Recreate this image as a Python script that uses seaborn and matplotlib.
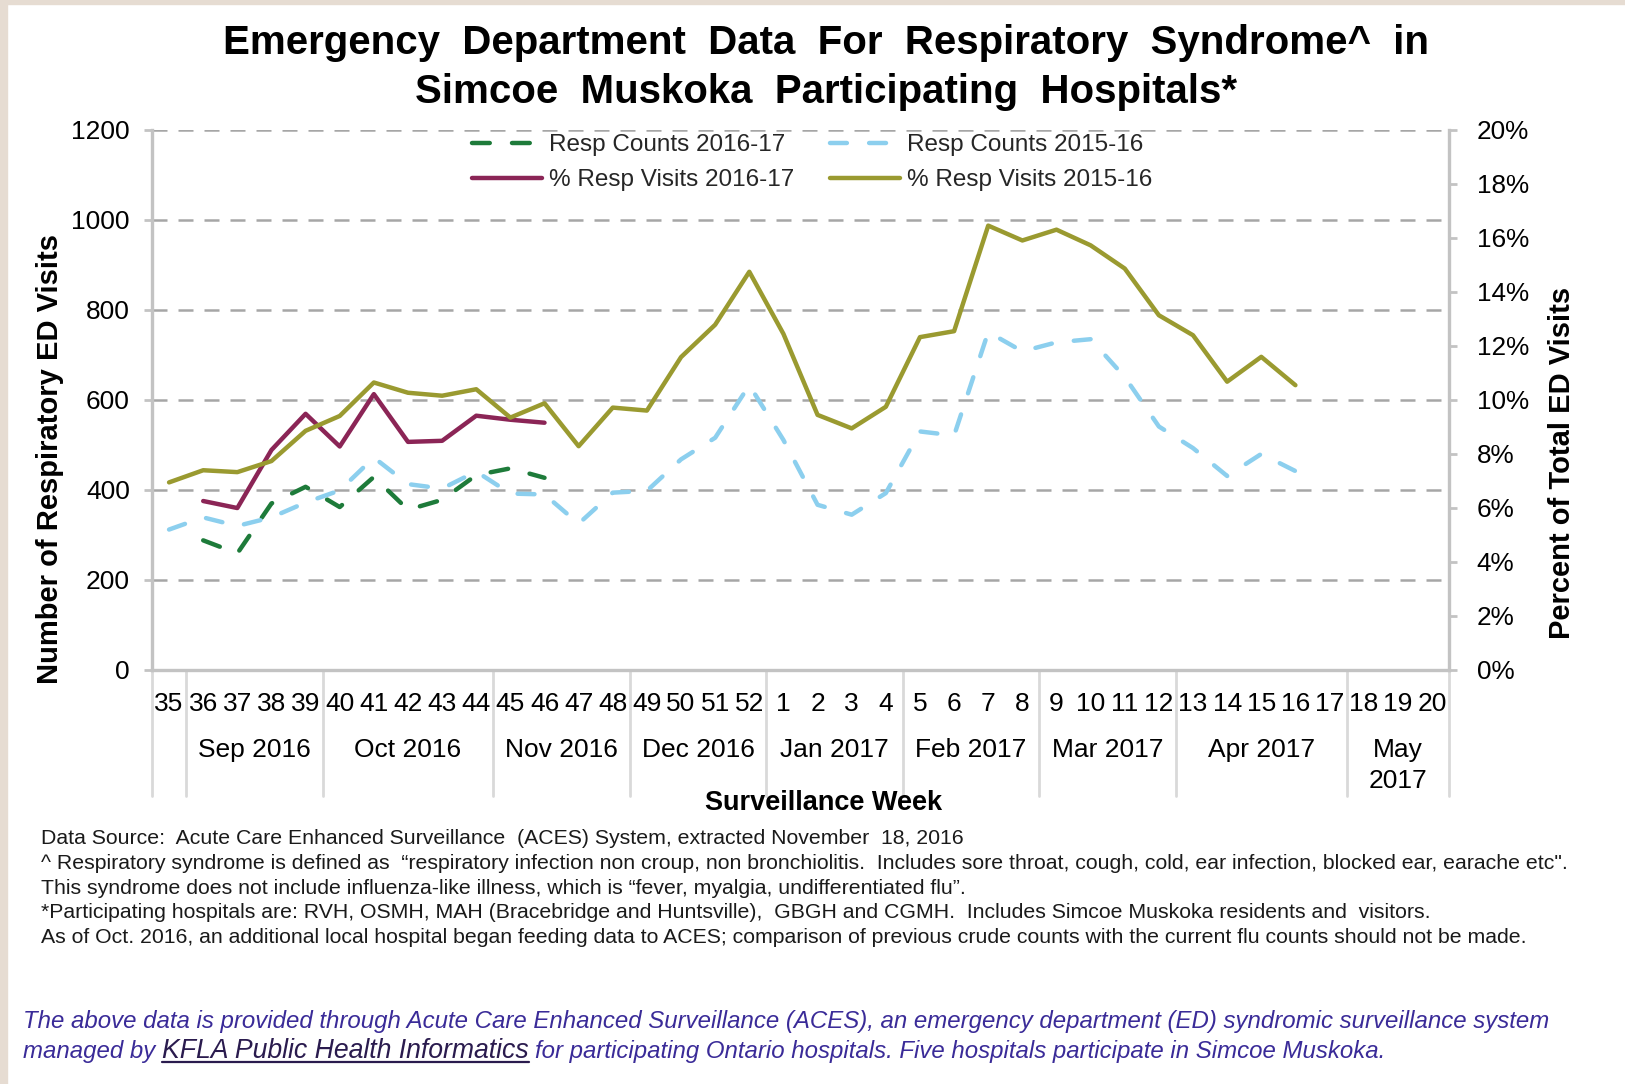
import numpy as np
import pandas as pd
import seaborn as sns
import matplotlib.pyplot as plt
import matplotlib.transforms as mtransforms
from matplotlib.patches import Rectangle
from matplotlib.ticker import FuncFormatter

weeks = [str(w) for w in range(35, 53)] + [str(w) for w in range(1, 21)]
month_labels = ['', 'Sep 2016', 'Oct 2016', 'Nov 2016', 'Dec 2016', 'Jan 2017',
                'Feb 2017', 'Mar 2017', 'Apr 2017', 'May\n2017']
month_sizes = [1, 4, 5, 4, 4, 4, 4, 4, 5, 3]

nan = np.nan
counts_1617 = [nan, 287, 258, 369, 406, 361, 428, 355, 377, 432, 447, 426] + [nan] * 26
counts_1516 = [311, 338, 319, 338, 371, 398, 471, 412, 402, 440,
               391, 389, 324, 393, 397, 467, 515, 632, 510, 366,
               344, 392, 529, 520, 750, 707, 727, 734, 650, 540,
               492, 430, 479, 441] + [nan] * 4
pct_1617 = [nan, 6.24, 5.98, 8.13, 9.47, 8.26, 10.20, 8.43, 8.47, 9.40, 9.25, 9.14] + [nan] * 26
pct_1516 = [6.93, 7.38, 7.31, 7.72, 8.84, 9.39, 10.63, 10.25, 10.14, 10.38,
            9.33, 9.86, 8.27, 9.70, 9.59, 11.57, 12.77, 14.73, 12.43, 9.43,
            8.93, 9.73, 12.31, 12.53, 16.44, 15.89, 16.29, 15.71, 14.85, 13.12,
            12.38, 10.66, 11.58, 10.53] + [nan] * 4

df = pd.DataFrame({'idx': range(len(weeks)), 'week': weeks,
                   'counts_1617': counts_1617, 'counts_1516': counts_1516,
                   'pct_1617': pct_1617, 'pct_1516': pct_1516})

sns.set_theme(style='white')
plt.rcParams['font.family'] = ['Liberation Sans', 'DejaVu Sans']

W, H = 1625, 1084
fig = plt.figure(figsize=(W / 100, H / 100), dpi=100)
fig.patch.set_facecolor('white')

def fx(px):
    return px / W

def fy(py):
    return 1 - py / H

# beige frame strips (top and left)
fig.patches.append(Rectangle((0, fy(4)), 1, 4 / H, transform=fig.transFigure, color='#e6dcd2', zorder=0))
fig.patches.append(Rectangle((0, 0), fx(7), 1, transform=fig.transFigure, color='#e6dcd2', zorder=0))

ax = fig.add_axes([fx(152), fy(669.5), fx(1449) - fx(152), fy(129.5) - fy(669.5)])
ax2 = ax.twinx()

green = '#1e7b3a'
lblue = '#8ccfee'
purple = '#8b2556'
olive = '#9a9a30'
lw = 3.2

sns.lineplot(data=df, x='idx', y='counts_1617', ax=ax, color=green, lw=lw,
             linestyle=(0, (4.0, 5.0)), dash_capstyle='round', label='Resp Counts 2016-17')
sns.lineplot(data=df, x='idx', y='counts_1516', ax=ax, color=lblue, lw=lw,
             linestyle=(0, (3.8, 5.0)), dash_capstyle='round', label='Resp Counts 2015-16')
sns.lineplot(data=df, x='idx', y='pct_1617', ax=ax2, color=purple, lw=lw,
             label='% Resp Visits 2016-17')
sns.lineplot(data=df, x='idx', y='pct_1516', ax=ax2, color=olive, lw=lw,
             label='% Resp Visits 2015-16')

h1, l1 = ax.get_legend_handles_labels()
h2, l2 = ax2.get_legend_handles_labels()
ax.get_legend().remove()
ax2.get_legend().remove()

axis_grey = '#c3c3c3'
ax.set_xlim(-0.5, len(weeks) - 0.5)
ax.set_ylim(0, 1200)
ax.set_yticks(range(0, 1201, 200))
ax2.set_ylim(0, 20)
ax2.set_yticks(range(0, 21, 2))
ax2.yaxis.set_major_formatter(FuncFormatter(lambda v, p: f'{v:.0f}%'))

ax.set_xticks(range(len(weeks)))
ax.set_xticklabels(weeks)
ax.set_xticks(np.arange(-0.5, len(weeks), 1), minor=True)
ax.tick_params(axis='x', which='major', length=0, pad=16.5, labelsize=19, labelcolor='black')
ax.tick_params(axis='x', which='minor', length=35, width=2, color='#d9d9d9', direction='out')
ax.tick_params(axis='y', length=6, width=2, color=axis_grey, pad=10, labelsize=19,
               labelcolor='black', left=True, direction='out')
ax2.tick_params(axis='y', length=6, width=2, color=axis_grey, pad=14, labelsize=18.8,
                labelcolor='black', right=True, direction='out')
ax.set_xlabel('')
ax.set_ylabel('')
ax2.set_ylabel('')

ax.set_axisbelow(True)
ax.grid(axis='y', color='#a6a6a6', lw=1.8, linestyle=(0, (6, 4.4)))
ax.grid(axis='x', visible=False)
ax2.grid(False)

for s in ['top', 'right']:
    ax.spines[s].set_visible(False)
for s in ['top', 'left', 'bottom']:
    ax2.spines[s].set_visible(False)
for sp in [ax.spines['left'], ax.spines['bottom'], ax2.spines['right']]:
    sp.set_color(axis_grey)
    sp.set_linewidth(2.4)

# month grouping below week labels
trans = mtransforms.blended_transform_factory(ax.transData, fig.transFigure)
bounds = np.concatenate([[-0.5], np.cumsum(month_sizes) - 0.5])
for b in bounds:
    ax.plot([b, b], [fy(669.5), fy(796)], transform=trans, clip_on=False,
            color='#d9d9d9', lw=2)
for lab, a, b in zip(month_labels, bounds[:-1], bounds[1:]):
    ax.text((a + b) / 2, fy(738), lab, transform=trans, ha='center', va='top',
            fontsize=19, color='black', linespacing=1.35)

handles = [h1[0], h2[0], h1[1], h2[1]]
labels = [l1[0], l2[0], l1[1], l2[1]]
ax2.legend(handles, labels, ncol=2, loc='upper left',
           bbox_to_anchor=(fx(472), fy(134)), bbox_transform=fig.transFigure,
           frameon=False, fontsize=17.5, handlelength=2.88, handletextpad=0.3,
           columnspacing=1.45, labelspacing=0.55, borderpad=0, borderaxespad=0)

fig.text(fx(826), fy(43), 'Emergency  Department  Data  For  Respiratory  Syndrome^  in',
         ha='center', va='center', fontsize=29, fontweight='bold', color='black')
fig.text(fx(826), fy(92), 'Simcoe  Muskoka  Participating  Hospitals*',
         ha='center', va='center', fontsize=29, fontweight='bold', color='black')

fig.text(fx(50), fy(459), 'Number of Respiratory ED Visits', rotation=90,
         ha='center', va='center', fontsize=21, fontweight='bold', color='black')
fig.text(fx(1562), fy(463), 'Percent of Total ED Visits', rotation=90,
         ha='center', va='center', fontsize=21, fontweight='bold', color='black')
fig.text(fx(824), fy(803), 'Surveillance Week', ha='center', va='center',
         fontsize=19.5, fontweight='bold', color='black')

notes = [
    'Data Source:  Acute Care Enhanced Surveillance  (ACES) System, extracted November  18, 2016',
    '^ Respiratory syndrome is defined as  \u201crespiratory infection non croup, non bronchiolitis.  '
    'Includes sore throat, cough, cold, ear infection, blocked ear, earache etc".',
    'This syndrome does not include influenza-like illness, which is \u201cfever, myalgia, undifferentiated flu\u201d.',
    '*Participating hospitals are: RVH, OSMH, MAH (Bracebridge and Huntsville),  GBGH and CGMH.  '
    'Includes Simcoe Muskoka residents and  visitors.',
    'As of Oct. 2016, an additional local hospital began feeding data to ACES; comparison of previous '
    'crude counts with the current flu counts should not be made.',
]
for i, line in enumerate(notes):
    fig.text(fx(41), fy(844 + i * 24.75), line, ha='left', va='baseline',
             fontsize=15.3, color='#1a1a1a')

blue = '#3a2b98'
fig.text(fx(23), fy(1028), 'The above data is provided through Acute Care Enhanced Surveillance (ACES), '
         'an emergency department (ED) syndromic surveillance system',
         ha='left', va='baseline', fontsize=17.25, style='italic', color=blue)

fig.canvas.draw()
r = fig.canvas.get_renderer()
space = 0.28 * 17.25 * 100 / 72
t1 = fig.text(fx(23), fy(1058), 'managed by', ha='left', va='baseline',
              fontsize=17.25, style='italic', color=blue)
bb1 = t1.get_window_extent(r)
t2 = fig.text((bb1.x1 + space) / W, fy(1058), 'KFLA Public Health Informatics',
              ha='left', va='baseline', fontsize=19.2, style='italic', color='#2a1b4e')
bb2 = t2.get_window_extent(r)
fig.add_artist(plt.Line2D([bb2.x0 / W, bb2.x1 / W], [fy(1061.5), fy(1061.5)],
                          transform=fig.transFigure, color='#2a1b4e', lw=1.6))
fig.text((bb2.x1 + space) / W, fy(1058),
         'for participating Ontario hospitals. Five hospitals participate in Simcoe Muskoka.',
         ha='left', va='baseline', fontsize=17.25, style='italic', color=blue)

fig.savefig('out.png', dpi=100, facecolor='white')
